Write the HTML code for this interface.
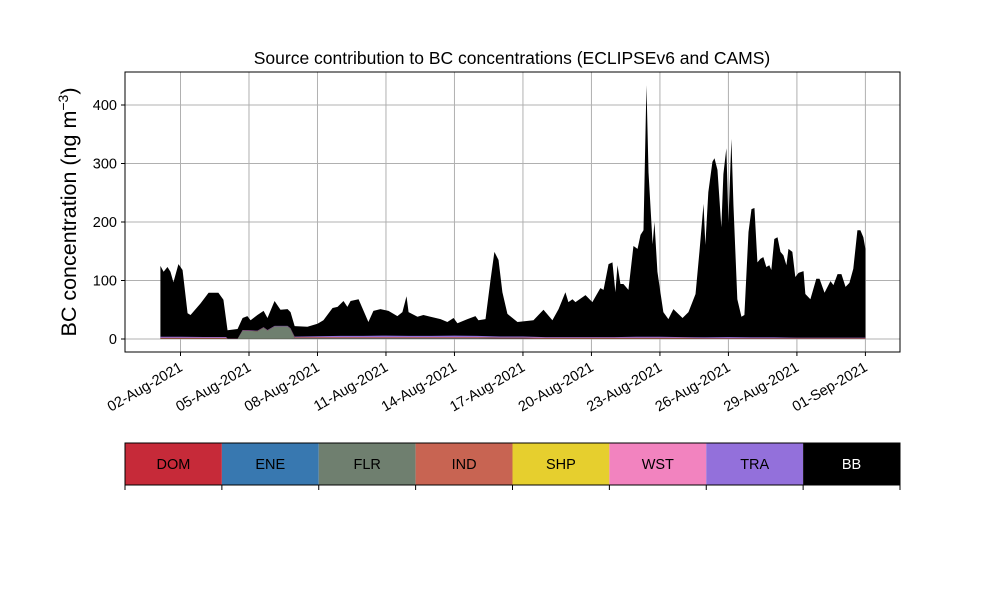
<!DOCTYPE html>
<html><head><meta charset="utf-8"><style>
body{margin:0;background:#fff;}
svg{display:block;font-family:"Liberation Sans","DejaVu Sans",sans-serif;}
</style></head><body>
<svg id="chart" width="1000" height="600" viewBox="0 0 1000 600"></svg>
<script>
// ---- data ----
const bbTimes = [0.12,0.26,0.43,0.56,0.69,0.91,1.09,1.31,1.44,1.88,2.23,2.66,2.88,3.06,3.50,3.72,3.93,4.07,4.37,4.64,4.81,5.12,5.38,5.69,5.82,6.0,6.56,7.0,7.26,7.66,7.88,8.14,8.31,8.45,8.80,9.23,9.45,9.76,10.11,10.50,10.72,10.90,10.99,11.38,11.64,11.95,12.39,12.69,12.96,13.13,13.57,13.92,14.05,14.36,14.58,14.75,14.93,15.10,15.32,15.76,16.46,16.90,17.29,17.56,17.86,17.99,18.17,18.30,18.74,19.04,19.39,19.53,19.75,19.92,20.05,20.14,20.27,20.40,20.62,20.84,21.02,21.15,21.28,21.41,21.50,21.68,21.76,21.89,22.02,22.15,22.37,22.59,22.99,23.25,23.56,23.73,23.91,23.99,24.12,24.30,24.39,24.52,24.69,24.78,24.91,25.0,25.13,25.22,25.39,25.57,25.70,25.88,26.01,26.14,26.27,26.40,26.53,26.66,26.79,26.88,27.01,27.15,27.28,27.41,27.54,27.63,27.80,27.93,28.07,28.29,28.37,28.59,28.85,28.99,29.21,29.47,29.60,29.78,29.95,30.13,30.30,30.47,30.65,30.78,30.91,31.0];
const bbValues = [125,115,123,115,97,128,118,44,41,61,79,79,67,15,17,36,39,32,41,48,36,65,50,51,46,22,21,26,32,53,55,65,55,65,68,29,48,51,48,39,46,73,46,38,41,38,34,29,36,27,34,39,32,34,101,149,135,80,43,29,32,50,32,51,80,63,68,63,75,63,87,84,128,131,80,126,94,94,84,159,154,178,186,434,285,162,200,115,80,46,34,51,36,46,77,149,231,161,251,303,309,289,191,282,326,200,342,229,68,38,41,183,222,224,131,137,140,123,126,118,171,174,149,143,126,154,149,106,113,116,77,68,103,103,79,99,92,111,111,89,96,120,186,186,174,154];
const minorTimes = [0.12,1,2,3,3.06,3.5,3.72,4.37,4.64,4.81,5.12,5.69,5.82,6.0,7,8,9,10,11,12,13,14,15,16,17,18,19,20,21,22,23,24,25,26,27,28,29,30,31];
const domValues = [0.5,0.5,0.5,0.5,0.2,0.2,0.3,0.3,0.3,0.3,0.3,0.3,0.3,0.5,0.5,0.5,0.5,0.5,0.5,0.5,0.5,0.5,0.5,0.5,0.5,0.5,0.5,0.5,0.5,0.5,0.5,0.5,0.5,0.5,0.5,0.5,0.5,0.5,0.5];
const eneValues = [0.2,0.2,0.2,0.2,0,0,0,0,0,0,0,0,0,0.2,0.2,0.2,0.2,0.2,0.2,0.2,0.2,0.2,0.2,0.2,0.2,0.2,0.2,0.2,0.2,0.2,0.2,0.2,0.2,0.2,0.2,0.2,0.2,0.2,0.2];
const flrValues = [0,0,0,0,0,0,14,13,19,14,21,21,17,1,1,1,1,1,1,1,1,1,0.5,0.5,0,0,0,0,0,0,0,0,0,0,0,0,0,0,0];
const indValues = [0.8,0.8,0.8,0.8,0.3,0.3,0.3,0.3,0.3,0.3,0.3,0.3,0.3,0.8,0.8,0.8,0.8,0.8,0.8,0.8,0.8,0.8,0.8,0.8,0.8,0.8,0.8,0.8,0.8,0.8,0.8,0.4,0.4,0.4,0.4,0.4,0.4,0.4,0.4];
const shpValues = [0.2,0.2,0.2,0.2,0,0,0,0,0,0,0,0,0,0.2,0.2,0.2,0.2,0.2,0.2,0.2,0.2,0.2,0.2,0.2,0.2,0.2,0.2,0.2,0.2,0.2,0.2,0.2,0.2,0.2,0.2,0.2,0.2,0.2,0.2];
const wstValues = [0.6,0.6,0.6,0.6,0,0,0.3,0.3,0.3,0.3,0.3,0.3,0.3,0.3,0.6,0.6,0.6,0.6,0.6,0.6,0.6,0.6,0.6,0.6,0.6,0.6,0.6,0.6,0.6,0.6,0.6,0.6,0.6,0.6,0.6,0.6,0.6,0.6,0.6];
const traValues = [1.5,1.5,1.2,1.2,0.2,0.2,0.5,0.5,0.5,0.5,0.5,0.5,0.5,1,1.5,2,2,2.5,2,2,2.5,2,1.5,1.5,1,1,1,1,1.5,1.5,1,1,1.5,1,1,0.5,0.5,0.5,0.5];
const sourceNames = ["DOM","ENE","FLR","IND","SHP","WST","TRA","BB"];
const sourceColors = ["#c62a39","#3878b0","#6f7f6f","#c86452","#e6cf2e","#f283bf","#9370db","#000000"];
const yTicks = [0,100,200,300,400];
const xTickDays = [1,4,7,10,13,16,19,22,25,28,31];
const xTickLabels = ["02-Aug-2021","05-Aug-2021","08-Aug-2021","11-Aug-2021","14-Aug-2021","17-Aug-2021","20-Aug-2021","23-Aug-2021","26-Aug-2021","29-Aug-2021","01-Sep-2021"];

// ---- axes ----
const L=125,R=900,T=72,B=352;
const xS = d => 180.5 + (d-1)*22.83;
const yS = v => 339 - v*0.585;
const svg = document.getElementById('chart');
const NS='http://www.w3.org/2000/svg';
function mk(tag, attrs, parent){const e=document.createElementNS(NS,tag);for(const k in attrs)e.setAttribute(k,attrs[k]);(parent||svg).appendChild(e);return e;}

yTicks.forEach(v=>{
  const g=mk('line',{x1:L,x2:R,y1:yS(v),y2:yS(v),stroke:'#b0b0b0','stroke-width':1});
  
  
});
xTickDays.forEach(d=>{
  const g=mk('line',{x1:xS(d),x2:xS(d),y1:T,y2:B,stroke:'#b0b0b0','stroke-width':1});
  
  
});

{
  let p='M'+xS(bbTimes[0])+','+yS(0);
  bbTimes.forEach((t,i)=>{p+=' L'+xS(t)+','+yS(bbValues[i]);});
  p+=' L'+xS(bbTimes[bbTimes.length-1])+','+yS(0)+' Z';
  const a=mk('path',{d:p,fill:'#000'});
  
  
}
{
  const series=[domValues,eneValues,flrValues,indValues,shpValues,wstValues,traValues];
  const base=minorTimes.map(()=>0);
  series.forEach((vals,si)=>{
    const top=base.map((b,i)=>b+vals[i]);
    let p='M'+xS(minorTimes[0])+','+yS(base[0]);
    minorTimes.forEach((t,i)=>{p+=' L'+xS(t)+','+yS(top[i]);});
    for(let i=minorTimes.length-1;i>=0;i--)p+=' L'+xS(minorTimes[i])+','+yS(base[i]);
    p+=' Z';
    const a=mk('path',{d:p,fill:sourceColors[si]});
    
    
    top.forEach((v,i)=>base[i]=v);
  });
}
{
  const f=mk('rect',{x:L,y:T,width:R-L,height:B-T,fill:'none',stroke:'#000','stroke-width':1});
  
  
}
yTicks.forEach(v=>{
  mk('line',{x1:L-4,x2:L,y1:yS(v),y2:yS(v),stroke:'#000'});
  const t=mk('text',{x:L-8,y:yS(v)+5,'text-anchor':'end','font-size':14.5});
  t.textContent=v;
  
  
});
xTickDays.forEach((d,i)=>{
  mk('line',{x1:xS(d),x2:xS(d),y1:B,y2:B+4,stroke:'#000'});
  const t=mk('text',{x:xS(d)+3,y:B+18,'text-anchor':'end','font-size':14.5,transform:`rotate(-30 ${xS(d)+3} ${B+18})`});
  t.textContent=xTickLabels[i];
  
  
});
{
  const t=mk('text',{x:512,y:64,'text-anchor':'middle','font-size':17.5});
  t.textContent='Source contribution to BC concentrations (ECLIPSEv6 and CAMS)';
  
  
  const y=mk('text',{x:0,y:0,'text-anchor':'middle','font-size':21.5,transform:'translate(76 212) rotate(-90)'});
  y.innerHTML='BC concentration (ng m<tspan baseline-shift="super" font-size="14">−3</tspan>)';
  
  
}
{
  const cw=(R-L)/sourceNames.length;
  sourceNames.forEach((n,i)=>{
    const r=mk('rect',{x:L+i*cw,y:443,width:cw,height:42,fill:sourceColors[i]});
    
    
    const t=mk('text',{x:L+i*cw+cw/2,y:469,'text-anchor':'middle','font-size':14.5,fill:n==='BB'?'#fff':'#000'});
    t.textContent=n;
    
    
  });
  const fr=mk('rect',{x:L,y:443,width:R-L,height:42,fill:'none',stroke:'#000'});
  
  
  for(let i=0;i<=sourceNames.length;i++)mk('line',{x1:L+i*cw,x2:L+i*cw,y1:485,y2:490,stroke:'#000'});
}
</script>
</body></html>
